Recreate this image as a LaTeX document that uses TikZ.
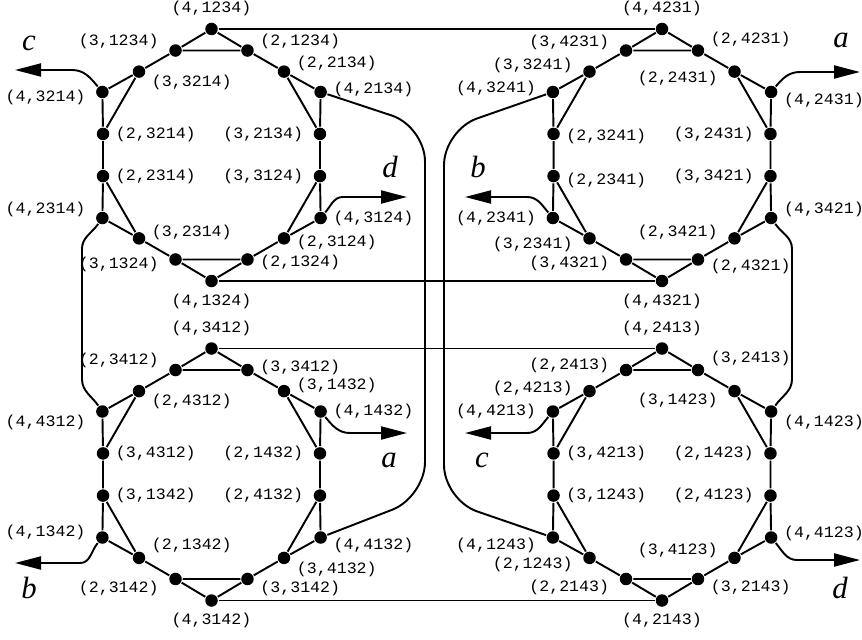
\documentclass[tikz,border=0pt]{standalone}
\usepackage{fontspec}
\setmainfont{Liberation Serif}
\newfontfamily\lblfont[FakeStretch=1.05]{Liberation Mono}
\usetikzlibrary{arrows.meta}
\tikzset{
  baseline = (current bounding box.center),
}

\begin{document}
\begin{tikzpicture}[
    line width=1.1pt,
    vtx/.style={circle, fill, inner sep=0pt, minimum size=0.25cm},
    every label/.style={font=\lblfont\fontsize{9}{10}\selectfont, inner sep=1pt},
    label distance=0.06cm,
    la/.style={label={above:{#1}}},
    lb/.style={label={below:{#1}}},
    lr/.style 2 args={label={[yshift=#2]right:{#1}}},
    ll/.style 2 args={label={[yshift=#2, xshift=-0.08cm]left:{#1}}},
    exit/.style={-{Triangle[length=0.52cm,width=0.26cm]}},
    tag/.style={font=\itshape\fontsize{17.5}{18}\selectfont, inner sep=0pt},
    ]
    \useasboundingbox (0,0) rectangle (17.24,12.78);

    % upper left
    \begin{scope}[shift={(4.23,9.68)}]
    \node[vtx, la={(4,1234)}] (n4-1234) at (90:2.52) {};
    \node[vtx, lr={(2,1234)}{0.18cm}] (n2-1234) at (71:2.21) {};
    \node[vtx, lr={(2,2134)}{0.16cm}] (n2-2134) at (49:2.21) {};
    \node[vtx, lr={(4,2134)}{0.06cm}] (n4-2134) at (30:2.52) {};
    \node[vtx, ll={(3,2134)}{0cm}] (n3-2134) at (11:2.21) {};
    \node[vtx, ll={(3,3124)}{0cm}] (n3-3124) at (-11:2.21) {};
    \node[vtx, lr={(4,3124)}{0cm}] (n4-3124) at (-30:2.52) {};
    \node[vtx, lr={(2,3124)}{-0.08cm}] (n2-3124) at (-49:2.21) {};
    \node[vtx, lr={(2,1324)}{-0.06cm}] (n2-1324) at (-71:2.21) {};
    \node[vtx, lb={(4,1324)}] (n4-1324) at (-90:2.52) {};
    \node[vtx, ll={(3,1324)}{-0.1cm}] (n3-1324) at (-109:2.21) {};
    \node[vtx, lr={(3,2314)}{0.12cm}] (n3-2314) at (-131:2.21) {};
    \node[vtx, ll={(4,2314)}{0.18cm}] (n4-2314) at (-150:2.52) {};
    \node[vtx, lr={(2,2314)}{0cm}] (n2-2314) at (-169:2.21) {};
    \node[vtx, lr={(2,3214)}{0cm}] (n2-3214) at (169:2.21) {};
    \node[vtx, ll={(4,3214)}{-0.1cm}] (n4-3214) at (150:2.52) {};
    \node[vtx, lr={(3,3214)}{-0.22cm}] (n3-3214) at (131:2.21) {};
    \node[vtx, ll={(3,1234)}{0.18cm}] (n3-1234) at (109:2.21) {};
    \end{scope}

    % upper right
    \begin{scope}[shift={(13.24,9.68)}]
    \node[vtx, la={(4,4231)}] (n4-4231) at (90:2.52) {};
    \node[vtx, lr={(2,4231)}{0.22cm}] (n2-4231) at (71:2.21) {};
    \node[vtx, ll={(2,2431)}{-0.14cm}] (n2-2431) at (49:2.21) {};
    \node[vtx, lr={(4,2431)}{-0.16cm}] (n4-2431) at (30:2.52) {};
    \node[vtx, ll={(3,2431)}{0cm}] (n3-2431) at (11:2.21) {};
    \node[vtx, ll={(3,3421)}{0cm}] (n3-3421) at (-11:2.21) {};
    \node[vtx, lr={(4,3421)}{0.18cm}] (n4-3421) at (-30:2.52) {};
    \node[vtx, ll={(2,3421)}{0.12cm}] (n2-3421) at (-49:2.21) {};
    \node[vtx, lr={(2,4321)}{-0.14cm}] (n2-4321) at (-71:2.21) {};
    \node[vtx, lb={(4,4321)}] (n4-4321) at (-90:2.52) {};
    \node[vtx, ll={(3,4321)}{-0.08cm}] (n3-4321) at (-109:2.21) {};
    \node[vtx, ll={(3,2341)}{-0.12cm}] (n3-2341) at (-131:2.21) {};
    \node[vtx, ll={(4,2341)}{0cm}] (n4-2341) at (-150:2.52) {};
    \node[vtx, lr={(2,2341)}{-0.08cm}] (n2-2341) at (-169:2.21) {};
    \node[vtx, lr={(2,3241)}{-0.04cm}] (n2-3241) at (169:2.21) {};
    \node[vtx, ll={(4,3241)}{0.08cm}] (n4-3241) at (150:2.52) {};
    \node[vtx, ll={(3,3241)}{0.12cm}] (n3-3241) at (131:2.21) {};
    \node[vtx, ll={(3,4231)}{0.16cm}] (n3-4231) at (109:2.21) {};
    \end{scope}

    % lower left
    \begin{scope}[shift={(4.23,3.29)}]
    \node[vtx, la={(4,3412)}] (n4-3412) at (90:2.52) {};
    \node[vtx, lr={(3,3412)}{0.06cm}] (n3-3412) at (71:2.21) {};
    \node[vtx, lr={(3,1432)}{0.12cm}] (n3-1432) at (49:2.21) {};
    \node[vtx, lr={(4,1432)}{0cm}] (n4-1432) at (30:2.52) {};
    \node[vtx, ll={(2,1432)}{0cm}] (n2-1432) at (11:2.21) {};
    \node[vtx, ll={(2,4132)}{0cm}] (n2-4132) at (-11:2.21) {};
    \node[vtx, lr={(4,4132)}{-0.16cm}] (n4-4132) at (-30:2.52) {};
    \node[vtx, lr={(3,4132)}{-0.24cm}] (n3-4132) at (-49:2.21) {};
    \node[vtx, lr={(3,3142)}{-0.18cm}] (n3-3142) at (-71:2.21) {};
    \node[vtx, lb={(4,3142)}] (n4-3142) at (-90:2.52) {};
    \node[vtx, ll={(2,3142)}{-0.18cm}] (n2-3142) at (-109:2.21) {};
    \node[vtx, lr={(2,1342)}{0.24cm}] (n2-1342) at (-131:2.21) {};
    \node[vtx, ll={(4,1342)}{0.1cm}] (n4-1342) at (-150:2.52) {};
    \node[vtx, lr={(3,1342)}{0cm}] (n3-1342) at (-169:2.21) {};
    \node[vtx, lr={(3,4312)}{0cm}] (n3-4312) at (169:2.21) {};
    \node[vtx, ll={(4,4312)}{-0.22cm}] (n4-4312) at (150:2.52) {};
    \node[vtx, lr={(2,4312)}{-0.2cm}] (n2-4312) at (131:2.21) {};
    \node[vtx, ll={(2,3412)}{0.2cm}] (n2-3412) at (109:2.21) {};
    \end{scope}

    % lower right
    \begin{scope}[shift={(13.24,3.29)}]
    \node[vtx, la={(4,2413)}] (n4-2413) at (90:2.52) {};
    \node[vtx, lr={(3,2413)}{0.24cm}] (n3-2413) at (71:2.21) {};
    \node[vtx, ll={(3,1423)}{-0.18cm}] (n3-1423) at (49:2.21) {};
    \node[vtx, lr={(4,1423)}{-0.22cm}] (n4-1423) at (30:2.52) {};
    \node[vtx, ll={(2,1423)}{0cm}] (n2-1423) at (11:2.21) {};
    \node[vtx, ll={(2,4123)}{0cm}] (n2-4123) at (-11:2.21) {};
    \node[vtx, lr={(4,4123)}{0.08cm}] (n4-4123) at (-30:2.52) {};
    \node[vtx, ll={(3,4123)}{0.14cm}] (n3-4123) at (-49:2.21) {};
    \node[vtx, lr={(3,2143)}{-0.16cm}] (n3-2143) at (-71:2.21) {};
    \node[vtx, lb={(4,2143)}] (n4-2143) at (-90:2.52) {};
    \node[vtx, ll={(2,2143)}{-0.16cm}] (n2-2143) at (-109:2.21) {};
    \node[vtx, ll={(2,1243)}{-0.14cm}] (n2-1243) at (-131:2.21) {};
    \node[vtx, ll={(4,1243)}{-0.16cm}] (n4-1243) at (-150:2.52) {};
    \node[vtx, lr={(3,1243)}{0cm}] (n3-1243) at (-169:2.21) {};
    \node[vtx, lr={(3,4213)}{0cm}] (n3-4213) at (169:2.21) {};
    \node[vtx, ll={(4,4213)}{0cm}] (n4-4213) at (150:2.52) {};
    \node[vtx, ll={(2,4213)}{0.06cm}] (n2-4213) at (131:2.21) {};
    \node[vtx, ll={(2,2413)}{0.1cm}] (n2-2413) at (109:2.21) {};
    \end{scope}

    % rings and chords
    \draw (n4-1234) -- (n2-1234) -- (n2-2134) -- (n4-2134) -- (n3-2134) -- (n3-3124)
      -- (n4-3124) -- (n2-3124) -- (n2-1324) -- (n4-1324) -- (n3-1324) -- (n3-2314)
      -- (n4-2314) -- (n2-2314) -- (n2-3214) -- (n4-3214) -- (n3-3214) -- (n3-1234) -- (n4-1234);
    \draw (n3-1234) -- (n2-1234) (n2-2134) -- (n3-2134) (n3-3124) -- (n2-3124)
      (n2-1324) -- (n3-1324) (n3-2314) -- (n2-2314) (n2-3214) -- (n3-3214);

    \draw (n4-4231) -- (n2-4231) -- (n2-2431) -- (n4-2431) -- (n3-2431) -- (n3-3421)
      -- (n4-3421) -- (n2-3421) -- (n2-4321) -- (n4-4321) -- (n3-4321) -- (n3-2341)
      -- (n4-2341) -- (n2-2341) -- (n2-3241) -- (n4-3241) -- (n3-3241) -- (n3-4231) -- (n4-4231);
    \draw (n3-4231) -- (n2-4231) (n2-2431) -- (n3-2431) (n3-3421) -- (n2-3421)
      (n2-4321) -- (n3-4321) (n3-2341) -- (n2-2341) (n2-3241) -- (n3-3241);

    \draw (n4-3412) -- (n3-3412) -- (n3-1432) -- (n4-1432) -- (n2-1432) -- (n2-4132)
      -- (n4-4132) -- (n3-4132) -- (n3-3142) -- (n4-3142) -- (n2-3142) -- (n2-1342)
      -- (n4-1342) -- (n3-1342) -- (n3-4312) -- (n4-4312) -- (n2-4312) -- (n2-3412) -- (n4-3412);
    \draw (n2-3412) -- (n3-3412) (n3-1432) -- (n2-1432) (n2-4132) -- (n3-4132)
      (n3-3142) -- (n2-3142) (n2-1342) -- (n3-1342) (n3-4312) -- (n2-4312);

    \draw (n4-2413) -- (n3-2413) -- (n3-1423) -- (n4-1423) -- (n2-1423) -- (n2-4123)
      -- (n4-4123) -- (n3-4123) -- (n3-2143) -- (n4-2143) -- (n2-2143) -- (n2-1243)
      -- (n4-1243) -- (n3-1243) -- (n3-4213) -- (n4-4213) -- (n2-4213) -- (n2-2413) -- (n4-2413);
    \draw (n2-2413) -- (n3-2413) (n3-1423) -- (n2-1423) (n2-4123) -- (n3-4123)
      (n3-2143) -- (n2-2143) (n2-1243) -- (n3-1243) (n3-4213) -- (n2-4213);

    % links between the rings
    \draw (n4-1234) -- (n4-4231);
    \draw (n4-1324) -- (n4-4321);
    \draw (n4-3412) -- (n4-2413);
    \draw (n4-3142) -- (n4-2143);
    \draw[rounded corners=0.7cm] (n4-2134) -- (8.5,10.25) -- (8.5,2.84) -- (n4-4132);
    \draw[rounded corners=0.7cm] (n4-3241) -- (8.88,10.18) -- (8.88,2.78) -- (n4-1243);
    \draw (n4-2314) to[out=-125,in=90] (1.64,7.8) -- (1.64,5.2) to[out=-90,in=125] (n4-4312);
    \draw (n4-3421) to[out=-55,in=90] (15.84,7.8) -- (15.84,5.2) to[out=-90,in=55] (n4-1423);

    % loose ends
    \coordinate (end-c1) at (0.3,11.38);
    \coordinate (end-d1) at (8.14,8.84);
    \coordinate (end-a1) at (17.2,11.34);
    \coordinate (end-b1) at (9.3,8.84);
    \coordinate (end-a2) at (8.14,4.12);
    \coordinate (end-b2) at (0.3,1.52);
    \coordinate (end-c2) at (9.3,4.12);
    \coordinate (end-d2) at (17.2,1.58);
    \draw[exit] (n4-3214) to[out=130,in=0] (1.44,11.38) -- (end-c1);
    \draw[exit] (n4-3124) to[out=50,in=180] (6.86,8.84) -- (end-d1);
    \draw[exit] (n4-2431) to[out=50,in=180] (16.0,11.34) -- (end-a1);
    \draw[exit] (n4-2341) to[out=130,in=0] (10.54,8.84) -- (end-b1);
    \draw[exit] (n4-1432) to[out=-50,in=180] (7.0,4.12) -- (end-a2);
    \draw[exit] (n4-1342) to[out=-130,in=0] (1.6,1.52) -- (end-b2);
    \draw[exit] (n4-4213) to[out=-130,in=0] (10.54,4.12) -- (end-c2);
    \draw[exit] (n4-4123) to[out=-50,in=180] (15.94,1.58) -- (end-d2);
    \node[tag] (tag-c1) at (0.58,11.92) {c};
    \node[tag] (tag-d1) at (7.8,9.44) {d};
    \node[tag] (tag-a1) at (16.82,11.98) {a};
    \node[tag] (tag-b1) at (9.56,9.44) {b};
    \node[tag] (tag-a2) at (7.78,3.58) {a};
    \node[tag] (tag-b2) at (0.58,1.02) {b};
    \node[tag] (tag-c2) at (9.64,3.58) {c};
    \node[tag] (tag-d2) at (16.8,1.02) {d};
\end{tikzpicture}
\end{document}
